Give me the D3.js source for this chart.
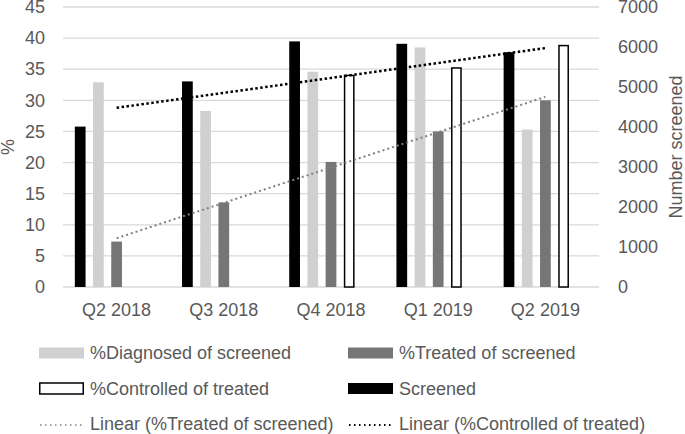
<!DOCTYPE html>
<html>
<head>
<meta charset="utf-8">
<script src="https://cdn.jsdelivr.net/npm/d3@7.9.0/dist/d3.min.js"></script>
<style>
  body { margin: 0; background: #fff; }
  svg text { font-family: "Liberation Sans", Arial, sans-serif; fill: #595959; }
</style>
</head>
<body>
<svg id="chart"></svg>
<script>
// quarters on the x axis
const quarters = ['Q2 2018', 'Q3 2018', 'Q4 2018', 'Q1 2019', 'Q2 2019'];

// percent series (left axis), null = no bar
const diagnosed = [32.9, 28.3, 34.6, 38.5, 25.3];
const treated = [7.3, 13.6, 20.1, 25.0, 30.0];
const controlled = [null, null, 34.0, 35.2, 38.8];

// number screened (right axis)
const screened = [4010, 5140, 6140, 6080, 5870];

const pctTicks = [0, 5, 10, 15, 20, 25, 30, 35, 40, 45];
const numTicks = [0, 1000, 2000, 3000, 4000, 5000, 6000, 7000];

const width = 685;
const height = 434;
const plot = { left: 63, right: 599, top: 7, bottom: 287 };

const svg = d3.select('#chart')
    .attr('width', width)
    .attr('height', height);

const x0 = d3.scaleBand()
    .domain(quarters)
    .range([plot.left, plot.right]);

// 5 slots per quarter, the last one stays empty
const x1 = d3.scaleBand()
    .domain(['screened', 'diagnosed', 'treated', 'controlled', 'gap'])
    .range([0, x0.bandwidth()])
    .paddingInner(0.41)
    .paddingOuter(0.65);

const yPct = d3.scaleLinear().domain([0, 45]).range([plot.bottom, plot.top]);
const yNum = d3.scaleLinear().domain([0, 7000]).range([plot.bottom, plot.top]);

// gridlines
svg.append('g')
    .selectAll('line')
    .data(pctTicks)
    .join('line')
    .attr('x1', plot.left)
    .attr('x2', plot.right)
    .attr('y1', d => yPct(d))
    .attr('y2', d => yPct(d))
    .attr('stroke', '#d9d9d9')
    .attr('stroke-width', 1.3);

// left axis
const leftAxis = svg.append('g')
    .attr('transform', `translate(${plot.left - 18},0)`)
    .call(d3.axisLeft(yPct).tickValues(pctTicks).tickSize(0).tickPadding(0));
leftAxis.select('.domain').remove();
leftAxis.selectAll('text')
    .style('font-size', '18px')
    .attr('fill', '#595959');

// right axis
const rightAxis = svg.append('g')
    .attr('transform', `translate(${plot.right + 19},0)`)
    .call(d3.axisRight(yNum).tickValues(numTicks).tickFormat(d3.format('d')).tickSize(0).tickPadding(0));
rightAxis.select('.domain').remove();
rightAxis.selectAll('text')
    .style('font-size', '18px')
    .attr('fill', '#595959');

// bottom labels
const bottomAxis = svg.append('g')
    .attr('transform', `translate(0,${plot.bottom + 12})`)
    .call(d3.axisBottom(x0).tickSize(0).tickPadding(0));
bottomAxis.select('.domain').remove();
bottomAxis.selectAll('text')
    .style('font-size', '18px')
    .attr('fill', '#595959')
    .attr('dy', '0.95em');

svg.append('text')
    .attr('transform', `translate(14,${(plot.top + plot.bottom) / 2}) rotate(-90)`)
    .attr('text-anchor', 'middle')
    .style('font-size', '18px')
    .text('%');

svg.append('text')
    .attr('transform', `translate(682,${(plot.top + plot.bottom) / 2}) rotate(-90)`)
    .attr('text-anchor', 'middle')
    .style('font-size', '18px')
    .text('Number screened');

// bars
const bars = svg.append('g');

function drawBars(key, values, scale, fill, stroke) {
    bars.append('g')
        .selectAll('rect')
        .data(values.map((v, i) => ({ q: quarters[i], v })).filter(d => d.v != null))
        .join('rect')
        .attr('x', d => x0(d.q) + x1(key) + (stroke ? 0.75 : 0))
        .attr('y', d => scale(d.v))
        .attr('width', x1.bandwidth() - (stroke ? 1.5 : 0))
        .attr('height', d => plot.bottom - scale(d.v))
        .attr('fill', fill)
        .attr('stroke', stroke || 'none')
        .attr('stroke-width', stroke ? 1.5 : 0);
}

drawBars('screened', screened, yNum, '#000000');
drawBars('diagnosed', diagnosed, yPct, '#d0d0d0');
drawBars('treated', treated, yPct, '#767676');
drawBars('controlled', controlled, yPct, '#ffffff', '#000000');

// linear trendlines (least squares over the points that exist)
function trend(values) {
    const pts = values.map((v, i) => [i, v]).filter(d => d[1] != null);
    const mx = d3.mean(pts, d => d[0]);
    const my = d3.mean(pts, d => d[1]);
    const slope = d3.sum(pts, d => (d[0] - mx) * (d[1] - my)) / d3.sum(pts, d => (d[0] - mx) ** 2);
    return quarters.map((q, i) => [q, my + slope * (i - mx)]);
}

const trendLine = d3.line()
    .x(d => x0(d[0]) + x0.bandwidth() / 2)
    .y(d => yPct(d[1]));

svg.append('path')
    .attr('d', trendLine(trend(treated)))
    .attr('fill', 'none')
    .attr('stroke', '#808080')
    .attr('stroke-width', 2)
    .attr('stroke-dasharray', '2,3');

svg.append('path')
    .attr('d', trendLine(trend(controlled)))
    .attr('fill', 'none')
    .attr('stroke', '#000000')
    .attr('stroke-width', 2.5)
    .attr('stroke-dasharray', '2.5,2.5');

// legend
const legendItems = [
    { label: '%Diagnosed of screened', type: 'rect', fill: '#d0d0d0', col: 0, row: 0 },
    { label: '%Treated of screened', type: 'rect', fill: '#767676', col: 1, row: 0 },
    { label: '%Controlled of treated', type: 'rect', fill: '#ffffff', stroke: '#000000', col: 0, row: 1 },
    { label: 'Screened', type: 'rect', fill: '#000000', col: 1, row: 1 },
    { label: 'Linear (%Treated of screened)', type: 'line', stroke: '#808080', width: 2, col: 0, row: 2 },
    { label: 'Linear (%Controlled of treated)', type: 'line', stroke: '#000000', width: 2.5, col: 1, row: 2 }
];

const legend = svg.append('g')
    .selectAll('g')
    .data(legendItems)
    .join('g')
    .attr('transform', d => `translate(${d.col === 0 ? 39 : 348},${353 + d.row * 35.5})`);

legend.filter(d => d.type === 'rect')
    .append('rect')
    .attr('x', d => d.stroke ? 0.75 : 0)
    .attr('y', -5.5)
    .attr('width', d => d.stroke ? 43.5 : 45)
    .attr('height', 11)
    .attr('fill', d => d.fill)
    .attr('stroke', d => d.stroke || 'none')
    .attr('stroke-width', 1.5);

legend.filter(d => d.type === 'line')
    .append('line')
    .attr('x1', 1)
    .attr('x2', 45)
    .attr('y1', 1)
    .attr('y2', 1)
    .attr('stroke', d => d.stroke)
    .attr('stroke-width', d => d.width - 0.5)
    .attr('stroke-dasharray', '1.5,3.5');

legend.append('text')
    .attr('x', 51)
    .attr('dy', '0.35em')
    .style('font-size', '18px')
    .text(d => d.label);
</script>
</body>
</html>
